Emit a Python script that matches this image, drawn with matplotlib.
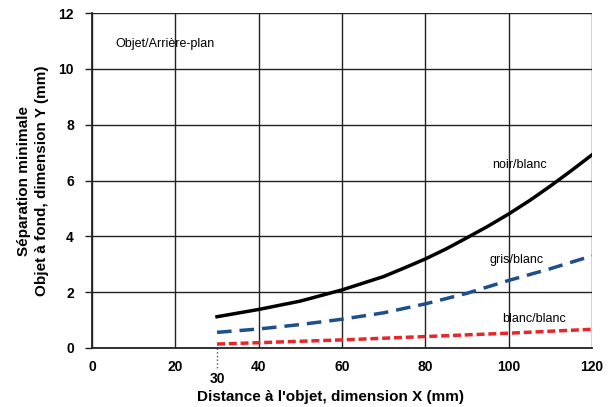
from matplotlib import pyplot as plt

plt.rcParams['font.family'] = ['Liberation Sans Narrow', 'Liberation Sans', 'DejaVu Sans']

#The data
x = [30, 40, 50, 60, 70, 75, 80, 85, 90, 95, 100, 105, 110, 115, 120]
noir_blanc = [1.12, 1.38, 1.68, 2.08, 2.56, 2.87, 3.19, 3.55, 3.95, 4.36, 4.8, 5.28, 5.8, 6.35, 6.92]
x2 = [30, 40, 50, 60, 70, 80, 90, 100, 110, 120]
gris_blanc = [0.56, 0.68, 0.84, 1.03, 1.26, 1.58, 1.96, 2.42, 2.84, 3.3]
blanc_blanc = [0.14, 0.19, 0.24, 0.29, 0.35, 0.41, 0.47, 0.53, 0.6, 0.67]

xticks = [0, 20, 40, 60, 80, 100, 120]
yticks = [0, 2, 4, 6, 8, 10, 12]

fig = plt.figure(figsize=(6.08, 4.07), dpi=100)
ax = fig.add_axes([0.1513, 0.145, 0.8224, 0.823])

ax.plot(x, noir_blanc, color='black', lw=2.5)
ax.plot(x2, gris_blanc, color='#1f4e8a', lw=2.5, dashes=(4.2, 2.3))
ax.plot(x2, blanc_blanc, color='#e8262a', lw=2.5, dashes=(2.3, 1.1))

#dotted marker for the start at 30
ax.plot([30, 30], [0, -0.75], color='#555555', lw=1, ls=':', clip_on=False)
ax.text(30, -0.85, '30', ha='center', va='top', fontsize=10, fontweight='bold')

ax.set_xlim(0, 120)
ax.set_ylim(0, 12)
ax.set_xticks(xticks)
ax.set_yticks(yticks)
ax.grid(True, color='#222222', lw=1)
ax.set_axisbelow(True)
for s in ['top', 'right']:
    ax.spines[s].set_visible(False)
for s in ['left', 'bottom']:
    ax.spines[s].set_color('#222222')
    ax.spines[s].set_linewidth(1.3)
ax.tick_params(axis='x', length=0, pad=9, labelsize=10)
ax.tick_params(axis='y', length=5, width=1, color='#222222', pad=8, labelsize=10)
for lab in ax.get_xticklabels() + ax.get_yticklabels():
    lab.set_fontweight('bold')

ax.text(5.5, 10.9, 'Objet/Arrière-plan', fontsize=9, va='center')
ax.text(102.5, 6.55, 'noir/blanc', fontsize=9, ha='center', va='center')
ax.text(102, 3.15, 'gris/blanc', fontsize=9, ha='center', va='center')
ax.text(106, 1.04, 'blanc/blanc', fontsize=9, ha='center', va='center')

ax.set_xlabel("Distance à l'objet, dimension X (mm)", fontsize=11, fontweight='bold')
ax.xaxis.set_label_coords(0.478, -0.125)
ax.set_ylabel("Séparation minimale\nObjet à fond, dimension Y (mm)", fontsize=11,
              fontweight='bold', linespacing=1.4)
ax.yaxis.set_label_coords(-0.085, 0.5)

fig.savefig('out.png', dpi=100)
